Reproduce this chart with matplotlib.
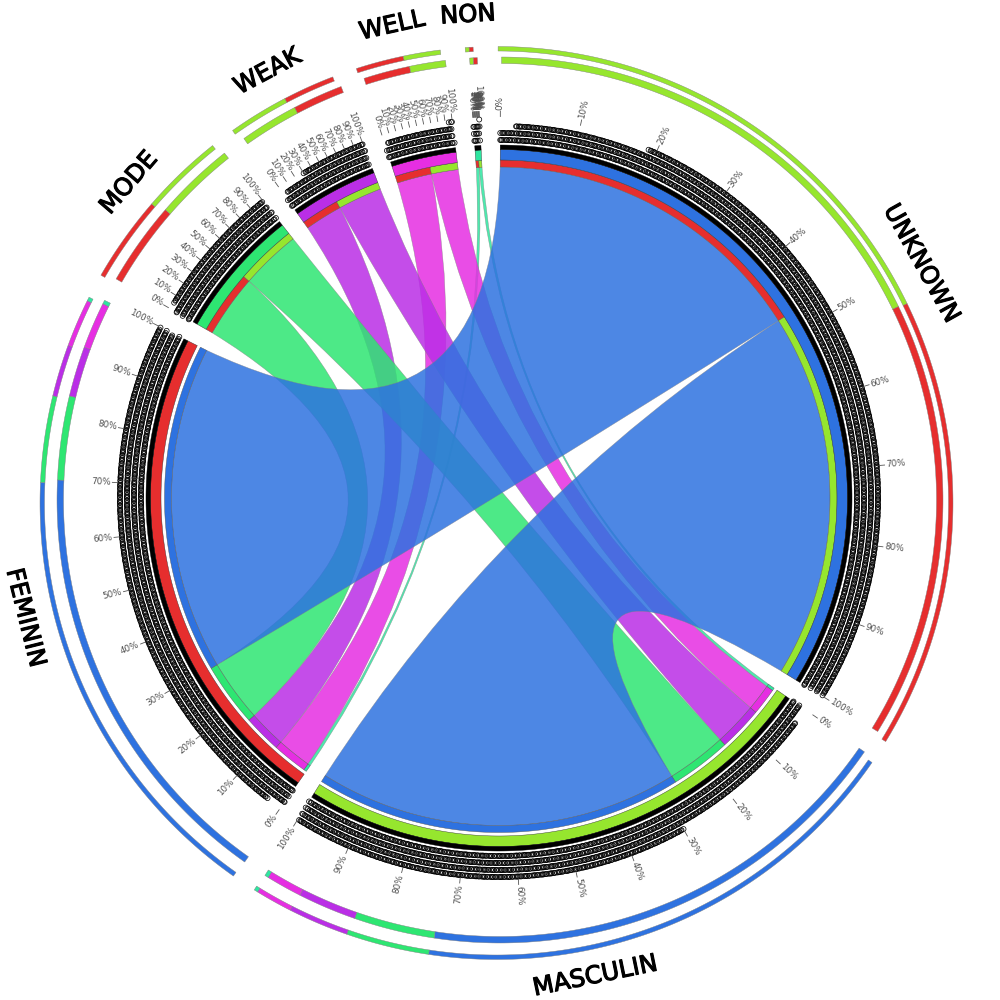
import numpy as np
import matplotlib
matplotlib.use("Agg")
import matplotlib.pyplot as plt
from matplotlib.path import Path
from matplotlib.patches import PathPatch
import matplotlib.patheffects as pe

rows = ["UNKNOWN", "MODE", "WEAK", "WELL", "NON"]
cols = ["MASCULIN", "FEMININ"]
to_masculin = [63.9, 10.6, 7.7, 4.7, 0.5]
to_feminin = [57.4, 11.0, 6.6, 6.1, 0.5]
sector_order = ["UNKNOWN", "MASCULIN", "FEMININ", "MODE", "WEAK", "WELL", "NON"]
colors = {"UNKNOWN": "#2e72e0", "MODE": "#2ee672", "WEAK": "#ba2ee6", "WELL": "#e62ee2",
          "NON": "#2ee6a0", "MASCULIN": "#96e62e", "FEMININ": "#e62e2e"}
pct_labels = [f"{p}%" for p in range(0, 101, 10)]
ring_radii = [358, 365, 372, 379]
ring_starts = {"UNKNOWN": [0.0, 0.0, 0.02, 0.19], "MASCULIN": [0.0, 0.0, 0.03, 0.3],
               "FEMININ": [0.0, 0.0, 0.0, 0.03], "MODE": [0.0, 0.0, 0.0, 0.05],
               "WEAK": [0.0, 0.0, 0.05, 0.3], "WELL": [0.0, 0.0, 0.05, 0.95], "NON": [0.0, 0.0, 0.0, 0.95]}
glyph_steps = [0.9, 0.9, 1.5, 2.3, 0.9, 1.9]

GAP = 3.14
START = 0.2
C_IN = (499.0, 498.0)
C_THICK = (500.0, 500.0)
C_THIN = (496.5, 503.0)
C_NAME = (497.0, 500.0)
GREY = "#808080"
BEZ = 20.0

fig = plt.figure(figsize=(10, 10), dpi=100)
ax = fig.add_axes([0, 0, 1, 1])
ax.set_xlim(0, 1000)
ax.set_ylim(1000, 0)
ax.axis("off")

def pol(theta, r, c=C_IN):
    t = np.radians(theta)
    return np.column_stack([c[0] + r * np.sin(t), c[1] - r * np.cos(t)])

def band(a0, a1, r0, r1, color, c=C_IN, ec=None, lw=0.3, z=3):
    n = max(int(abs(a1 - a0) * 2), 2)
    th = np.linspace(a0, a1, n)
    v = np.vstack([pol(th, r1, c), pol(th[::-1], r0, c)])
    ax.fill(v[:, 0], v[:, 1], facecolor=color, edgecolor=ec if ec else "none", linewidth=lw, zorder=z)

def ctrl(a, b):
    ra, rb = np.radians(a), np.radians(b)
    return (C_IN[0] + BEZ * (np.sin(ra) + np.sin(rb)) / 2, C_IN[1] - BEZ * (np.cos(ra) + np.cos(rb)) / 2)

flow = {}
for i, r in enumerate(rows):
    flow[(r, "MASCULIN")] = to_masculin[i]
    flow[(r, "FEMININ")] = to_feminin[i]
total = {r: flow[(r, "MASCULIN")] + flow[(r, "FEMININ")] for r in rows}
total["MASCULIN"] = sum(to_masculin)
total["FEMININ"] = sum(to_feminin)
k = (360 - 7 * GAP) / sum(total.values())
span = {}
pos = START
for s in sector_order:
    span[s] = (pos, pos + total[s] * k)
    pos += total[s] * k + GAP

row_seg = {}
for r in rows:
    a = span[r][0]
    for c in ["FEMININ", "MASCULIN"]:
        row_seg[(r, c)] = (a, a + flow[(r, c)] * k)
        a += flow[(r, c)] * k
col_seg = {}
for c in cols:
    a = span[c][0]
    for r in rows[::-1]:
        col_seg[(r, c)] = (a, a + flow[(r, c)] * k)
        a += flow[(r, c)] * k

R_ROW, R_COL = 331.0, 327.5

def ribbon(r, c):
    a, b = row_seg[(r, c)]
    d0, d1 = col_seg[(r, c)]
    ta = np.linspace(a, b, max(int((b - a) * 2), 2))
    td = np.linspace(d0, d1, max(int((d1 - d0) * 2), 2))
    pa = pol(ta, R_ROW)
    pd = pol(td, R_COL)
    verts = list(map(tuple, pa)) + [ctrl(b, d0), tuple(pd[0])] + list(map(tuple, pd[1:])) + \
            [ctrl(d1, a), tuple(pa[0]), tuple(pa[0])]
    codes = [Path.MOVETO] + [Path.LINETO] * (len(pa) - 1) + [Path.CURVE3, Path.CURVE3] + \
            [Path.LINETO] * (len(pd) - 1) + [Path.CURVE3, Path.CURVE3, Path.CLOSEPOLY]
    ax.add_patch(PathPatch(Path(verts, codes), facecolor=colors[r], edgecolor="none", alpha=0.85, zorder=2))
    ax.add_patch(PathPatch(Path(verts, codes), facecolor="none", edgecolor=GREY, linewidth=0.35, alpha=0.7, zorder=2))

for r in rows[::-1]:
    for c in cols:
        ribbon(r, c)

for (r, c), (a, b) in row_seg.items():
    band(a, b, R_ROW, 338, colors[c], ec="#555555")
for (r, c), (a, b) in col_seg.items():
    band(a, b, R_COL, 334.5, colors[r], ec="#555555")

for s in sector_order:
    a0, a1 = span[s]
    band(a0, a1, 338, 348.5, colors[s], ec="#333333")
    band(a0, a1, 348.5, 353, "black", ec="black")
    for i, (rr, st) in enumerate(zip(ring_radii, ring_starts[s])):
        arc = np.radians(a1 - a0) * rr * (1 - st)
        steps = np.resize(np.roll(glyph_steps, i), int(arc) + 2)
        dist = np.concatenate([[0], np.cumsum(steps)])
        dist = dist[dist <= arc]
        th = a0 + st * (a1 - a0) + np.degrees(dist / rr)
        p = pol(th, rr)
        ax.scatter(p[:, 0], p[:, 1], s=13, facecolor="none", edgecolor="black", linewidth=0.52, zorder=4)
    for j, lab in enumerate(pct_labels):
        th = a0 + (a1 - a0) * j / 10
        p = pol(np.array([th, th]), np.array([381.5, 387.0]))
        ax.plot(p[:, 0], p[:, 1], color="#555555", lw=0.6, zorder=4)
        tp = pol(np.array([th]), 388.5)[0]
        right = th < 180
        ax.text(tp[0], tp[1], lab, fontsize=6.3, color="#505050", va="center",
                ha="left" if right else "right", rotation=(90 - th) if right else (270 - th),
                rotation_mode="anchor", zorder=5)

for s in sector_order:
    if s in rows:
        parts = [(flow[(s, c)], colors[c]) for c in cols]
    else:
        parts = [(flow[(r, s)], colors[r]) for r in rows]
    parts = sorted(parts, key=lambda x: -x[0])
    for c0, r0, r1 in [(C_THICK, 436.5, 443), (C_THIN, 452, 456.5)]:
        a = span[s][0]
        for v, col in parts:
            band(a, a + v * k, r0, r1, col, c=c0, ec=GREY, lw=0.3)
            a += v * k

for s in sector_order:
    mid = sum(span[s]) / 2
    p = pol(np.array([mid]), 486.0, C_NAME)[0]
    rot = 180 - mid if 90 < mid < 270 else -mid
    ax.text(p[0], p[1], s, fontsize=17.5, color="black", ha="center", va="center", rotation=rot,
            rotation_mode="anchor", zorder=6,
            path_effects=[pe.withStroke(linewidth=0.8, foreground="black")])

fig.savefig("out.png", dpi=100, facecolor="white")
